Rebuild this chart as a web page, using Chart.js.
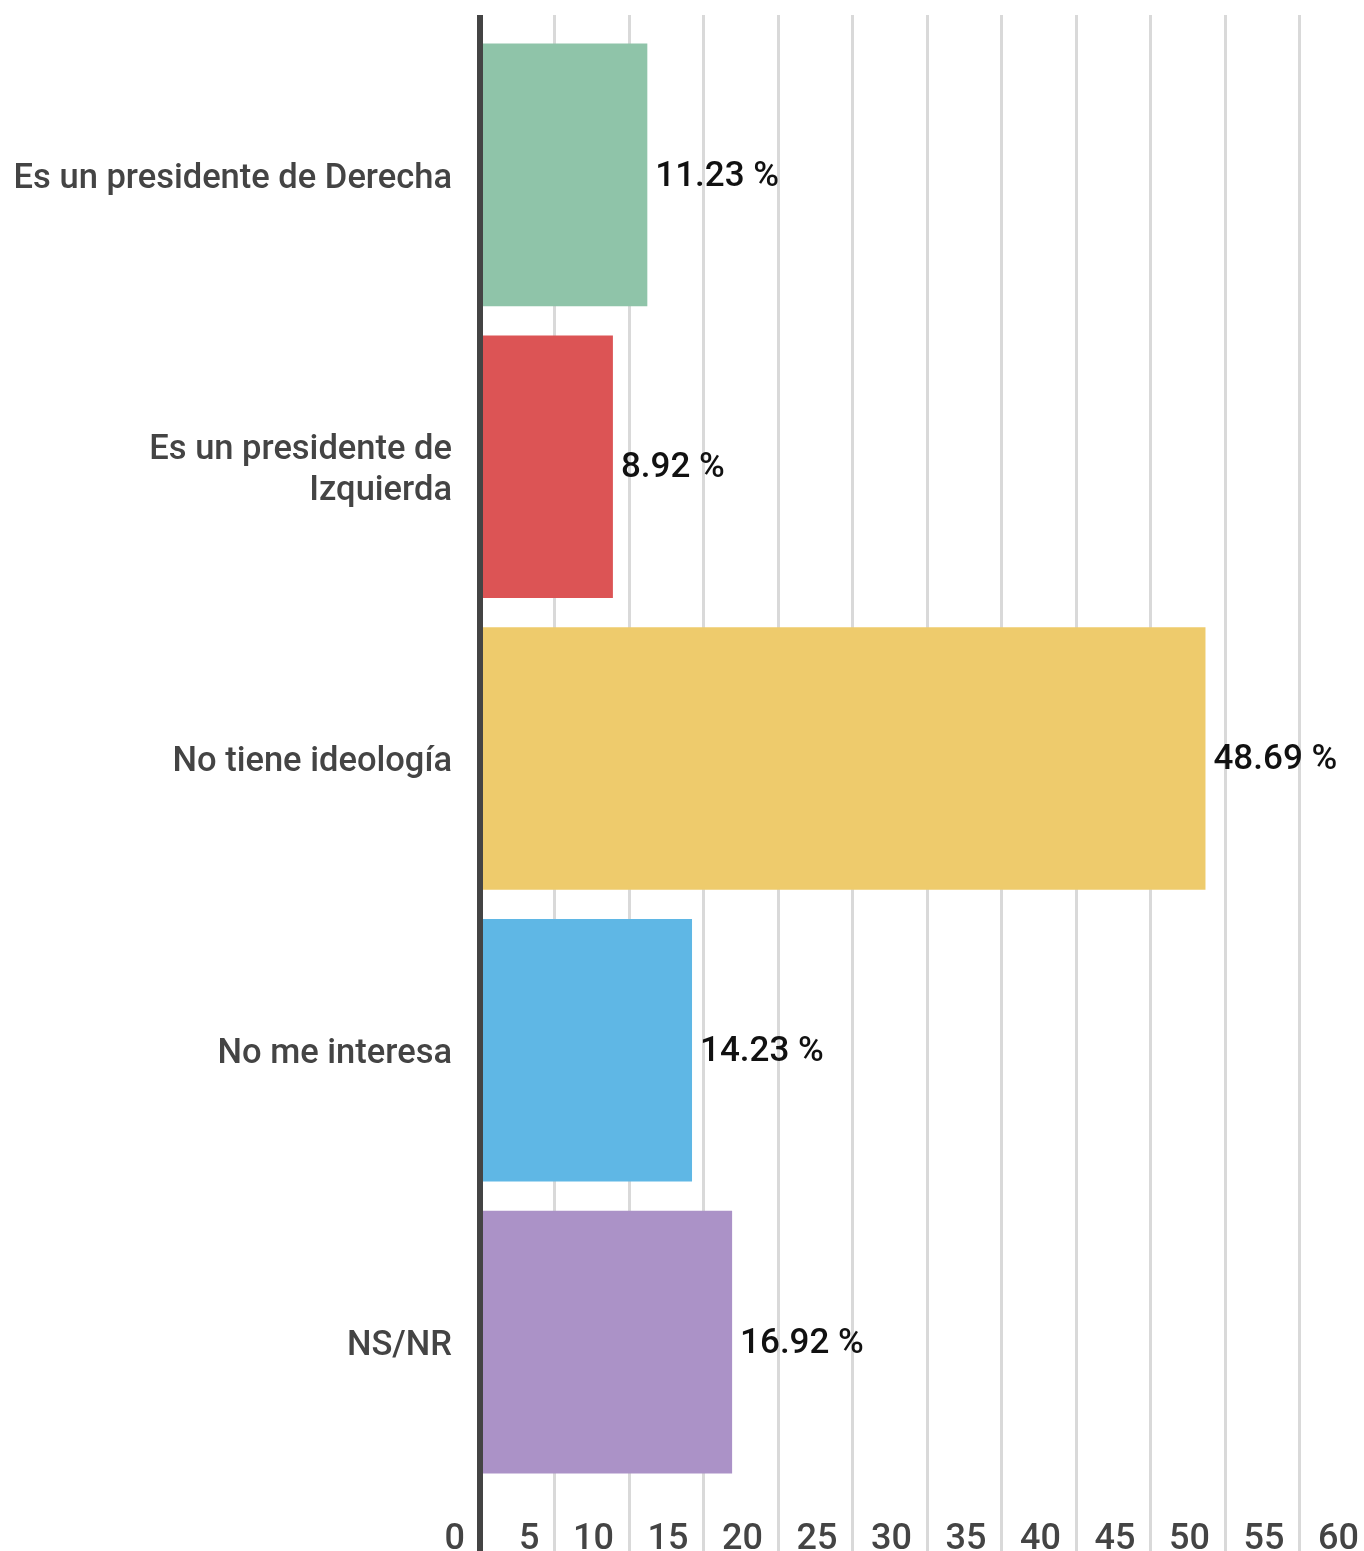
<!DOCTYPE html>
<html>
<head>
<meta charset="utf-8">
<script src="https://cdn.jsdelivr.net/npm/chart.js@4.4.1/dist/chart.umd.min.js"></script>
<style>
  html, body { margin: 0; padding: 0; background: #fff; overflow: hidden; }
  /* the 60 gridline sits just past the right edge of the picture */
  #wrap { width: 1374px; height: 1551px; }
</style>
</head>
<body>
<div id="wrap"><canvas id="chart"></canvas></div>
<script>
// chart data
const categories = [
    'Es un presidente de Derecha',
    ['Es un presidente de', 'Izquierda'],
    'No tiene ideología',
    'No me interesa',
    'NS/NR'
];
const values = [11.23, 8.92, 48.69, 14.23, 16.92];
const barColors = ['#8fc4a9', '#dc5455', '#eecb6c', '#5fb7e5', '#ab92c7'];
const xTicks = [0, 5, 10, 15, 20, 25, 30, 35, 40, 45, 50, 55, 60];

const AXIS_COLOR = '#444444';
const GRID_COLOR = '#d9d9d9';

// value labels to the right of each bar
const valueLabels = {
    id: 'valueLabels',
    afterDatasetsDraw(chart) {
        const ctx = chart.ctx;
        const meta = chart.getDatasetMeta(0);
        ctx.save();
        ctx.font = '500 35px Roboto';
        ctx.fillStyle = '#111111';
        ctx.textAlign = 'left';
        ctx.textBaseline = 'middle';
        meta.data.forEach((bar, i) => {
            ctx.fillText(values[i].toFixed(2) + ' %', bar.x + 8, bar.y + 2);
        });
        ctx.restore();
    }
};

const gridColor = (c) => c.tick && c.tick.value === 0 ? AXIS_COLOR : GRID_COLOR;
const gridWidth = (c) => c.tick && c.tick.value === 0 ? 6 : 3;

new Chart(document.getElementById('chart'), {
    type: 'bar',
    data: {
        labels: categories,
        datasets: [{
            data: values,
            backgroundColor: barColors,
            borderWidth: 0,
            barPercentage: 0.9,
            categoryPercentage: 1.0
        }]
    },
    options: {
        indexAxis: 'y',
        responsive: true,
        maintainAspectRatio: false,
        animation: false,
        layout: {
            padding: { top: 15, right: 0, bottom: 0, left: 0 }
        },
        plugins: {
            legend: { display: false },
            tooltip: { enabled: false }
        },
        scales: {
            x: {
                position: 'bottom',
                min: 0,
                max: 60,
                afterBuildTicks: (s) => { s.ticks = xTicks.map(v => ({ value: v })); },
                afterFit: (s) => { s.height = 63; },
                grid: {
                    color: gridColor,
                    lineWidth: gridWidth,
                    tickLength: 63
                },
                border: { display: false },
                ticks: {
                    align: 'end',
                    labelOffset: -15,
                    padding: -33,
                    maxRotation: 0,
                    autoSkip: false,
                    color: AXIS_COLOR,
                    font: { family: 'Roboto', size: 36, weight: '500' }
                }
            },
            x2: {
                axis: 'x',
                position: 'top',
                min: 0,
                max: 60,
                afterBuildTicks: (s) => { s.ticks = xTicks.map(v => ({ value: v })); },
                afterFit: (s) => { s.height = 14; },
                grid: {
                    color: gridColor,
                    lineWidth: gridWidth,
                    drawOnChartArea: false,
                    tickLength: 14
                },
                border: { display: false },
                ticks: { display: false }
            },
            y: {
                z: 1,
                afterFit: (s) => {
                    s.width = 480;
                    s.paddingTop = 0;
                    s.paddingBottom = 0;
                },
                grid: { display: false, drawTicks: false },
                border: { display: true, color: AXIS_COLOR, width: 6 },
                ticks: {
                    padding: 28,
                    labelOffset: 4,
                    color: AXIS_COLOR,
                    font: { family: 'Roboto', size: 34.5, weight: '500' }
                }
            }
        }
    },
    plugins: [valueLabels]
});
</script>
</body>
</html>
